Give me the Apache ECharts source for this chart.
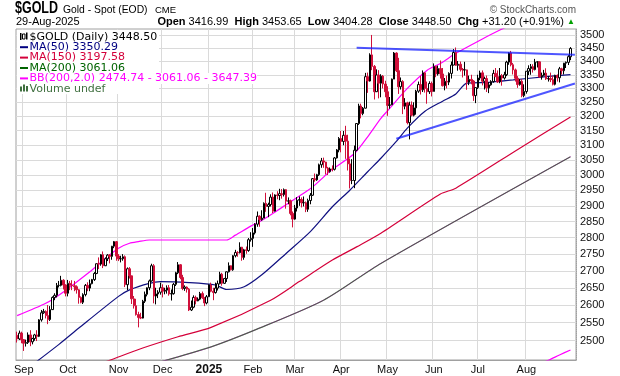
<!DOCTYPE html>
<html>
<head>
<meta charset="utf-8">
<script src="https://cdn.jsdelivr.net/npm/echarts@6/dist/echarts.min.js"></script>
<style>
  html, body { margin: 0; padding: 0; background: #fff; }
  #chart { width: 620px; height: 376px; }
</style>
</head>
<body>
<div id="chart"></div>
<script>
// trading days on the chart, per month
const tradingDays = [
  ['2024-08', [28, 29, 30]],
  ['2024-09', [3, 4, 5, 6, 9, 10, 11, 12, 13, 16, 17, 18, 19, 20, 23, 24, 25, 26, 27, 30]],
  ['2024-10', [1, 2, 3, 4, 7, 8, 9, 10, 11, 14, 15, 16, 17, 18, 21, 22, 23, 24, 25, 28, 29, 30, 31]],
  ['2024-11', [1, 4, 5, 6, 7, 8, 11, 12, 13, 14, 15, 18, 19, 20, 21, 22, 25, 26, 27, 29]],
  ['2024-12', [2, 3, 4, 5, 6, 9, 10, 11, 12, 13, 16, 17, 18, 19, 20, 23, 24, 26, 27, 30, 31]],
  ['2025-01', [2, 3, 6, 7, 8, 10, 13, 14, 15, 16, 17, 21, 22, 23, 24, 27, 28, 29, 30, 31]],
  ['2025-02', [3, 4, 5, 6, 7, 10, 11, 12, 13, 14, 18, 19, 20, 21, 24, 25, 26, 27, 28]],
  ['2025-03', [3, 4, 5, 6, 7, 10, 11, 12, 13, 14, 17, 18, 19, 20, 21, 24, 25, 26, 27, 28, 31]],
  ['2025-04', [1, 2, 3, 4, 7, 8, 9, 10, 11, 14, 15, 16, 17, 21, 22, 23, 24, 25, 28, 29, 30]],
  ['2025-05', [1, 2, 5, 6, 7, 8, 9, 12, 13, 14, 15, 16, 19, 20, 21, 22, 23, 27, 28, 29, 30]],
  ['2025-06', [2, 3, 4, 5, 6, 9, 10, 11, 12, 13, 16, 17, 18, 20, 23, 24, 25, 26, 27, 30]],
  ['2025-07', [1, 2, 3, 7, 8, 9, 10, 11, 14, 15, 16, 17, 18, 21, 22, 23, 24, 25, 28, 29, 30, 31]],
  ['2025-08', [1, 4, 5, 6, 7, 8, 11, 12, 13, 14, 15, 18, 19, 20, 21, 22, 25, 26, 27, 28, 29]]
];
const monthLabels = {
  '2024-09': 'Sep', '2024-10': 'Oct', '2024-11': 'Nov', '2024-12': 'Dec',
  '2025-01': '2025', '2025-02': 'Feb', '2025-03': 'Mar', '2025-04': 'Apr',
  '2025-05': 'May', '2025-06': 'Jun', '2025-07': 'Jul', '2025-08': 'Aug'
};

// daily prices (one line per month)
const opens = [
  2515, 2505, 2521,
  2503, 2493, 2495, 2516, 2497, 2506, 2516, 2512, 2558, 2578, 2582, 2570, 2559, 2587, 2622, 2628, 2657, 2657, 2672, 2658,
  2634, 2663, 2657, 2656, 2653, 2644, 2622, 2608, 2630, 2657, 2649, 2662, 2674, 2692, 2721, 2720, 2748, 2715, 2736, 2747, 2743, 2774, 2788,
  2744, 2736, 2736, 2742, 2659, 2706, 2685, 2618, 2598, 2573, 2565, 2563, 2611, 2631, 2650, 2670, 2715, 2626, 2632, 2637,
  2650, 2640, 2643, 2650, 2632, 2633, 2660, 2694, 2718, 2680, 2648, 2652, 2646, 2586, 2594, 2622, 2612, 2617, 2633, 2621, 2606,
  2624, 2658, 2640, 2636, 2649, 2662, 2690, 2663, 2677, 2697, 2715, 2703, 2745, 2755, 2754, 2771, 2740, 2763, 2761, 2794,
  2798, 2815, 2842, 2867, 2856, 2861, 2908, 2898, 2904, 2928, 2883, 2935, 2933, 2939, 2936, 2952, 2915, 2916, 2876,
  2858, 2893, 2918, 2920, 2910, 2910, 2889, 2917, 2934, 2988, 2984, 3001, 3034, 3047, 3043, 3023, 3011, 3020, 3019, 3057, 3084,
  3123, 3113, 3134, 3114, 3037, 2982, 2982, 3083, 3175, 3237, 3210, 3229, 3343, 3327, 3424, 3381, 3288, 3349, 3319, 3345, 3316,
  3288, 3239, 3241, 3334, 3431, 3365, 3306, 3325, 3236, 3248, 3178, 3240, 3204, 3230, 3290, 3314, 3295, 3357, 3300, 3288, 3318,
  3289, 3381, 3353, 3373, 3353, 3310, 3326, 3323, 3355, 3386, 3433, 3385, 3389, 3370, 3368, 3368, 3323, 3333, 3327, 3274,
  3303, 3338, 3357, 3326, 3336, 3302, 3313, 3325, 3355, 3343, 3324, 3347, 3338, 3350, 3397, 3431, 3387, 3368, 3337, 3314, 3326, 3274,
  3289, 3363, 3373, 3380, 3369, 3397, 3398, 3342, 3348, 3356, 3335, 3336, 3332, 3315, 3348, 3339, 3372, 3365, 3393, 3396, 3416.99
];
const highs = [
  2525, 2528, 2525,
  2504, 2503, 2523, 2529, 2508, 2519, 2529, 2560, 2586, 2589, 2585, 2600, 2597, 2625, 2634, 2664, 2670, 2685, 2675, 2660,
  2673, 2670, 2672, 2670, 2657, 2646, 2625, 2634, 2661, 2666, 2674, 2676, 2696, 2722, 2740, 2750, 2758, 2740, 2750, 2750, 2775, 2790, 2790,
  2750, 2745, 2750, 2746, 2710, 2711, 2685, 2626, 2618, 2581, 2578, 2615, 2639, 2651, 2674, 2721, 2720, 2650, 2643, 2665,
  2660, 2650, 2657, 2658, 2645, 2664, 2697, 2726, 2720, 2688, 2657, 2654, 2649, 2613, 2628, 2627, 2622, 2638, 2639, 2623, 2629,
  2660, 2665, 2650, 2665, 2671, 2697, 2694, 2679, 2698, 2725, 2716, 2747, 2763, 2759, 2786, 2772, 2766, 2773, 2799, 2817,
  2830, 2845, 2882, 2870, 2886, 2911, 2942, 2910, 2937, 2943, 2937, 2947, 2955, 2954, 2956, 2954, 2927, 2920, 2882,
  2903, 2928, 2930, 2927, 2930, 2914, 2923, 2941, 2990, 3005, 3004, 3038, 3057, 3058, 3044, 3027, 3025, 3032, 3060, 3087, 3128,
  3149, 3149, 3167, 3136, 3055, 3053, 3099, 3176, 3245, 3245, 3233, 3357, 3358, 3430, 3500, 3386, 3370, 3367, 3352, 3349, 3328,
  3308, 3269, 3336, 3435, 3434, 3413, 3340, 3330, 3265, 3252, 3252, 3253, 3250, 3295, 3325, 3346, 3366, 3360, 3325, 3326, 3325,
  3392, 3383, 3384, 3403, 3375, 3338, 3347, 3359, 3399, 3446, 3452, 3401, 3399, 3375, 3398, 3369, 3347, 3350, 3330, 3304,
  3350, 3365, 3366, 3343, 3347, 3323, 3330, 3368, 3375, 3366, 3375, 3353, 3361, 3402, 3434, 3439, 3394, 3373, 3345, 3334, 3334, 3315,
  3363, 3385, 3390, 3389, 3409, 3400, 3400, 3358, 3368, 3374, 3345, 3358, 3346, 3350, 3351, 3379, 3376, 3394, 3399, 3423, 3453.65
];
const lows = [
  2495, 2502, 2493,
  2472, 2484, 2491, 2485, 2490, 2500, 2499, 2510, 2553, 2575, 2562, 2546, 2555, 2586, 2614, 2622, 2651, 2654, 2645, 2625,
  2625, 2643, 2643, 2640, 2633, 2604, 2605, 2603, 2625, 2640, 2640, 2660, 2670, 2690, 2705, 2715, 2708, 2714, 2729, 2722, 2733, 2768, 2730,
  2729, 2725, 2730, 2652, 2643, 2677, 2603, 2590, 2570, 2537, 2560, 2562, 2606, 2625, 2643, 2668, 2605, 2602, 2620, 2630,
  2622, 2631, 2633, 2627, 2613, 2630, 2655, 2690, 2675, 2643, 2641, 2636, 2583, 2583, 2591, 2602, 2611, 2614, 2618, 2597, 2602,
  2623, 2637, 2614, 2633, 2642, 2660, 2656, 2661, 2667, 2695, 2701, 2700, 2740, 2742, 2752, 2730, 2733, 2751, 2757, 2788,
  2772, 2810, 2834, 2834, 2853, 2861, 2881, 2864, 2898, 2877, 2882, 2921, 2918, 2923, 2930, 2891, 2905, 2870, 2832,
  2856, 2882, 2900, 2895, 2898, 2880, 2881, 2905, 2932, 2978, 2981, 2997, 3024, 3024, 3002, 3000, 3008, 3012, 3015, 3055, 3076,
  3076, 3100, 3054, 3015, 2956, 2970, 2957, 3080, 3170, 3193, 3204, 3228, 3284, 3325, 3367, 3260, 3287, 3264, 3268, 3300, 3268,
  3202, 3227, 3240, 3334, 3360, 3280, 3296, 3208, 3225, 3172, 3120, 3200, 3200, 3206, 3284, 3278, 3287, 3285, 3245, 3280, 3271,
  3289, 3341, 3347, 3336, 3307, 3293, 3300, 3312, 3336, 3385, 3383, 3365, 3362, 3340, 3347, 3295, 3312, 3315, 3255, 3247,
  3298, 3330, 3311, 3296, 3287, 3283, 3310, 3321, 3342, 3320, 3319, 3310, 3332, 3345, 3387, 3381, 3351, 3325, 3302, 3310, 3268, 3268,
  3281, 3349, 3350, 3358, 3366, 3377, 3340, 3332, 3345, 3331, 3325, 3323, 3311, 3311, 3325, 3322, 3351, 3351, 3375, 3386, 3404.28
];
const closes = [
  2505, 2521, 2503,
  2493, 2495, 2516, 2497, 2506, 2516, 2512, 2558, 2578, 2582, 2570, 2559, 2587, 2622, 2628, 2657, 2657, 2672, 2658, 2634,
  2663, 2657, 2656, 2653, 2644, 2622, 2608, 2630, 2657, 2649, 2662, 2674, 2692, 2721, 2720, 2748, 2715, 2736, 2747, 2743, 2774, 2788, 2744,
  2736, 2736, 2742, 2659, 2706, 2685, 2618, 2598, 2573, 2565, 2563, 2611, 2631, 2650, 2670, 2715, 2626, 2632, 2637, 2650,
  2640, 2643, 2650, 2632, 2633, 2660, 2694, 2718, 2680, 2648, 2652, 2646, 2586, 2594, 2622, 2612, 2617, 2633, 2621, 2606, 2624,
  2658, 2640, 2636, 2649, 2662, 2690, 2663, 2677, 2697, 2715, 2703, 2745, 2755, 2754, 2771, 2740, 2763, 2761, 2794, 2798,
  2815, 2842, 2867, 2856, 2861, 2908, 2898, 2904, 2928, 2883, 2935, 2933, 2939, 2936, 2952, 2915, 2916, 2876, 2858,
  2893, 2918, 2920, 2910, 2910, 2889, 2917, 2934, 2988, 2984, 3001, 3034, 3047, 3043, 3023, 3011, 3020, 3019, 3057, 3084, 3123,
  3113, 3134, 3114, 3037, 2982, 2982, 3083, 3175, 3237, 3210, 3229, 3343, 3327, 3424, 3381, 3288, 3349, 3319, 3345, 3316, 3288,
  3239, 3241, 3334, 3431, 3365, 3306, 3325, 3236, 3248, 3178, 3240, 3204, 3230, 3290, 3314, 3295, 3357, 3300, 3288, 3318, 3289,
  3381, 3353, 3373, 3353, 3310, 3326, 3323, 3355, 3386, 3433, 3385, 3389, 3370, 3368, 3368, 3323, 3333, 3327, 3274, 3303,
  3338, 3357, 3326, 3336, 3302, 3313, 3325, 3355, 3343, 3324, 3347, 3338, 3350, 3397, 3431, 3387, 3368, 3337, 3314, 3326, 3274, 3289,
  3363, 3373, 3380, 3369, 3397, 3398, 3342, 3348, 3356, 3335, 3336, 3332, 3315, 3348, 3339, 3372, 3365, 3393, 3396, 3417.3, 3448.5
];

// indicator lines: [day, value]
const ma50 = [
  ['2024-09-03', 2417], ['2024-09-25', 2490], ['2024-10-08', 2535], ['2024-11-01', 2625],
  ['2024-11-08', 2644], ['2024-11-21', 2663], ['2024-11-29', 2668], ['2024-12-18', 2665],
  ['2025-01-07', 2658], ['2025-01-15', 2645], ['2025-01-28', 2653], ['2025-02-07', 2688],
  ['2025-02-25', 2752], ['2025-03-12', 2819], ['2025-03-26', 2897], ['2025-04-07', 2951],
  ['2025-04-17', 3011], ['2025-04-28', 3056], ['2025-05-07', 3113], ['2025-05-14', 3159],
  ['2025-05-27', 3218], ['2025-06-06', 3254], ['2025-06-16', 3280], ['2025-06-24', 3319],
  ['2025-07-09', 3322], ['2025-07-24', 3331], ['2025-08-14', 3343], ['2025-08-29', 3350.29]
];
const ma150 = [
  ['2024-10-22', 2438], ['2024-10-29', 2449], ['2024-11-18', 2480], ['2024-12-11', 2511],
  ['2025-01-03', 2537], ['2025-02-13', 2614], ['2025-03-05', 2668], ['2025-03-26', 2732],
  ['2025-04-10', 2772], ['2025-04-28', 2814], ['2025-06-05', 2938], ['2025-06-16', 2957],
  ['2025-07-29', 3090], ['2025-08-29', 3197.58]
];
const ma200 = [
  ['2024-11-21', 2434], ['2024-12-11', 2456], ['2025-01-03', 2483], ['2025-02-04', 2530],
  ['2025-03-20', 2614], ['2025-04-28', 2722], ['2025-08-29', 3061.06]
];
const bbUpper = [
  ['2024-08-28', 2570], ['2024-09-17', 2605], ['2024-09-27', 2638], ['2024-10-15', 2697],
  ['2024-10-24', 2737], ['2024-11-01', 2768], ['2024-11-08', 2783], ['2024-11-14', 2788],
  ['2024-11-21', 2793], ['2025-01-15', 2793], ['2025-01-22', 2808], ['2025-01-31', 2836],
  ['2025-02-06', 2850], ['2025-02-14', 2876], ['2025-02-26', 2908], ['2025-03-10', 2945],
  ['2025-03-14', 2967], ['2025-03-21', 3000], ['2025-03-25', 3014], ['2025-04-09', 3072],
  ['2025-04-17', 3129], ['2025-04-28', 3193], ['2025-05-02', 3228], ['2025-05-14', 3300],
  ['2025-05-28', 3367], ['2025-06-05', 3392], ['2025-06-16', 3430], ['2025-07-02', 3480],
  ['2025-07-16', 3519], ['2025-08-29', 3647.39]
];
const bbLower = [
  ['2025-08-08', 2434], ['2025-08-15', 2447], ['2025-08-22', 2461], ['2025-08-29', 2474.74]
];
// hand drawn trend lines
const trendTop = [['2025-04-10', 3451], ['pad2', 3425]];
const trendBottom = [['2025-05-07', 3122], ['pad2', 3318]];

const yTicks = [2500, 2550, 2600, 2650, 2700, 2750, 2800, 2850, 2900, 2950, 3000,
  3050, 3100, 3150, 3200, 3250, 3300, 3350, 3400, 3450, 3500];

// categories + month starts
const categories = [];
const monthStart = new Set();
tradingDays.forEach(([m, days]) => {
  days.forEach((d, j) => {
    if (j === 0 && monthLabels[m]) monthStart.add(categories.length);
    categories.push(m + '-' + String(d).padStart(2, '0'));
  });
});
categories.push('pad1', 'pad2');

const RED = '#d0103a';
const candles = closes.map((c, i) => {
  const o = opens[i];
  const prev = i ? closes[i - 1] : o;
  const col = c < prev ? RED : '#000';
  const fill = c < o ? col : '#fff';
  return {
    value: [o, c, lows[i], highs[i]],
    itemStyle: { color: fill, color0: fill, borderColor: col, borderColor0: col, borderColorDoji: col }
  };
});

const myChart = echarts.init(document.getElementById('chart'));

const lineSeries = (data, color, width, z, opacity) => ({
  type: 'line',
  data: data,
  symbol: 'none',
  smooth: 0.25,
  silent: true,
  z: z,
  lineStyle: { color: color, width: width, opacity: opacity == null ? 1 : opacity }
});

const FONT = '"Liberation Sans", Arial, sans-serif';
const LEG = '"DejaVu Sans", Verdana, sans-serif';

const legendRows = [
  { text: '$GOLD (Daily) 3448.50', color: '#000' },
  { text: 'MA(50) 3350.29', color: '#000080' },
  { text: 'MA(150) 3197.58', color: '#d4003a' },
  { text: 'MA(200) 3061.06', color: '#006400' },
  { text: 'BB(200,2.0) 2474.74 - 3061.06 - 3647.39', color: '#ff00ff' },
  { text: 'Volume undef', color: '#3f6f3f' }
];

const legendEls = [
  { type: 'rect', z: 100, shape: { x: 17, y: 30, width: 142, height: 64 }, style: { fill: '#fff' } }
];
legendRows.forEach((r, k) => {
  const cy = 36.8 + k * 10.4;
  legendEls.push({
    type: 'text', z: 101, x: 29.5, y: cy,
    style: { text: r.text, font: '11px ' + LEG, fill: r.color, verticalAlign: 'middle', backgroundColor: '#fff' }
  });
  if (k >= 1 && k <= 4) {
    legendEls.push({ type: 'rect', z: 101, shape: { x: 20, y: cy - 1, width: 8, height: 2 }, style: { fill: r.color } });
  }
});
// little icons for the price and volume rows
legendEls.push(
  { type: 'rect', z: 101, shape: { x: 20, y: 33, width: 1.5, height: 7 }, style: { fill: '#000' } },
  { type: 'rect', z: 101, shape: { x: 22.5, y: 34, width: 2.5, height: 5 }, style: { fill: '#fff', stroke: '#000', lineWidth: 1 } },
  { type: 'rect', z: 101, shape: { x: 26, y: 32.5, width: 1.5, height: 7 }, style: { fill: '#000' } },
  { type: 'rect', z: 101, shape: { x: 20, y: 86.5, width: 2, height: 5 }, style: { fill: '#3f6f3f' } },
  { type: 'rect', z: 101, shape: { x: 23, y: 84.5, width: 2, height: 7 }, style: { fill: '#3f6f3f' } },
  { type: 'rect', z: 101, shape: { x: 26, y: 86, width: 2, height: 5.5 }, style: { fill: '#3f6f3f' } }
);

const option = {
  animation: false,
  backgroundColor: '#fff',
  textStyle: { fontFamily: FONT },
  grid: { left: 16, top: 29, width: 560, height: 331, show: true, borderColor: '#a0a0a0', borderWidth: 1, backgroundColor: '#fff' },
  xAxis: {
    type: 'category',
    data: categories,
    boundaryGap: true,
    axisLine: { show: true, lineStyle: { color: '#a0a0a0' } },
    axisTick: { show: false },
    axisLabel: {
      interval: (i) => monthStart.has(i),
      formatter: (v) => {
        const lab = monthLabels[v.slice(0, 7)];
        return lab === '2025' ? '{y|2025}' : lab;
      },
      color: '#111',
      fontSize: 11,
      margin: 4,
      rich: { y: { fontWeight: 'bold', fontSize: 12, color: '#111' } }
    },
    splitLine: { show: true, interval: (i) => monthStart.has(i), lineStyle: { color: '#dadada', width: 1 } }
  },
  yAxis: {
    type: 'log',
    logBase: 10,
    position: 'right',
    min: 2447.5,
    max: 3523,
    axisLine: { show: true, lineStyle: { color: '#a0a0a0', type: 'dotted' } },
    axisTick: { show: false, customValues: yTicks },
    axisLabel: { customValues: yTicks, formatter: (v) => String(Math.round(v)), color: '#111', fontSize: 11, margin: 4 },
    splitLine: { show: true, lineStyle: { color: '#dadada', width: 1 } }
  },
  graphic: [
    { type: 'text', x: 15, y: 9, scaleX: 0.78, style: { text: '$GOLD', font: 'bold 16px ' + FONT, fill: '#000', verticalAlign: 'middle' } },
    { type: 'text', x: 63, y: 10, scaleX: 0.9, style: { text: 'Gold - Spot (EOD)', font: '11.5px ' + FONT, fill: '#000', verticalAlign: 'middle' } },
    { type: 'text', x: 155, y: 10.5, style: { text: 'CME', font: '9.5px ' + FONT, fill: '#000', verticalAlign: 'middle' } },
    { type: 'text', x: 576, y: 10, style: { text: '© StockCharts.com', font: '10px ' + FONT, fill: '#555', align: 'right', verticalAlign: 'middle' } },
    { type: 'text', x: 16, y: 21.5, style: { text: '29-Aug-2025', font: '11px ' + FONT, fill: '#000', verticalAlign: 'middle' } },
    {
      type: 'text', x: 575, y: 21.5,
      style: {
        text: '{b|Open} 3416.99  {b|High} 3453.65  {b|Low} 3404.28  {b|Close} 3448.50  {b|Chg} +31.20 (+0.91%) {g|▲}',
        font: '11px ' + FONT, fill: '#000', align: 'right', verticalAlign: 'middle',
        rich: {
          b: { font: 'bold 11px ' + FONT, fill: '#000' },
          g: { font: '8px ' + FONT, fill: '#00a000' }
        }
      }
    },
    { type: 'group', z: 100, children: legendEls }
  ],
  series: [
    lineSeries(bbUpper, '#ff00ff', 1.2, 2),
    lineSeries(bbLower, '#ff00ff', 1.2, 2),
    lineSeries(ma200, '#ff00ff', 1, 2),
    lineSeries(ma200, '#1f6a1f', 1.2, 3, 0.78),
    lineSeries(ma150, '#d4003a', 1.2, 3),
    lineSeries(ma50, '#101080', 1.2, 3),
    {
      type: 'candlestick',
      data: candles,
      barWidth: 2,
      z: 5,
      silent: true,
      itemStyle: { borderWidth: 1 }
    },
    Object.assign(lineSeries(trendTop, 'rgba(20,30,255,0.75)', 2, 6), { smooth: false }),
    Object.assign(lineSeries(trendBottom, 'rgba(20,30,255,0.75)', 2, 6), { smooth: false })
  ]
};

myChart.setOption(option);
</script>
</body>
</html>
